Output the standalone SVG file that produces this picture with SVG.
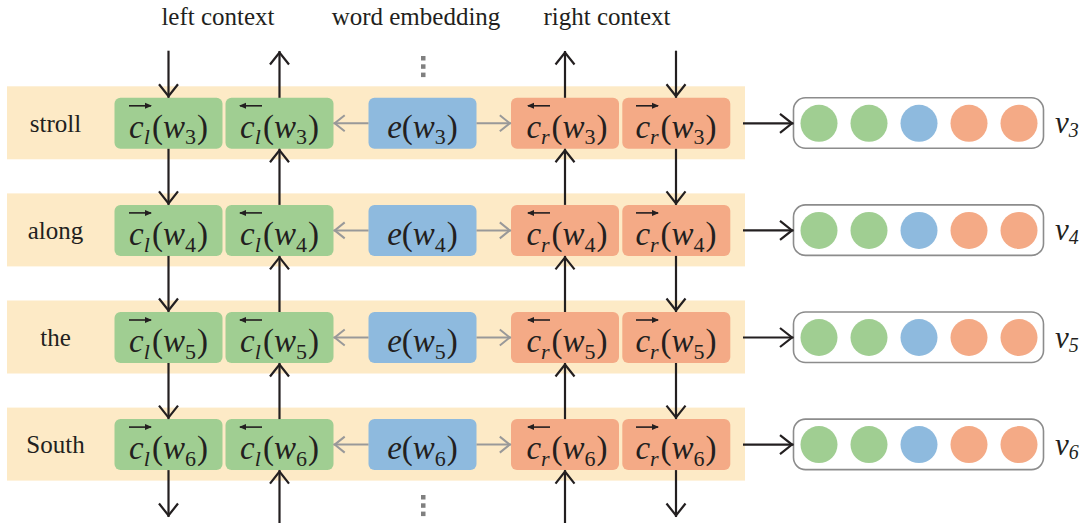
<svg xmlns="http://www.w3.org/2000/svg" width="1081" height="523" viewBox="0 0 1081 523">
<style>
.band{fill:#fdeac6}
.g{fill:#a0ce92}.b{fill:#8ebade}.o{fill:#f4aa86}
.m{font-family:"Liberation Serif","Times New Roman",serif;font-size:33px;fill:#231f20;text-anchor:middle}
.i{font-style:italic}
.s{font-size:22px}
.lbl{font-family:"Liberation Serif","Times New Roman",serif;font-size:25px;fill:#231f20;text-anchor:middle}
.v{font-family:"Liberation Serif","Times New Roman",serif;font-size:31px;fill:#231f20;font-style:italic}
.ar{stroke:#231f20;stroke-width:2.2;fill:none;marker-end:url(#ah)}
.ga{stroke:#999;stroke-width:2;fill:none;marker-end:url(#gh)}
.oa{stroke:#231f20;stroke-width:1.6;fill:none;marker-end:url(#sh)}
.vb{fill:#fff;stroke:#8c8c8c;stroke-width:1.6}
.dot{fill:#808080}
</style>
<defs>
<marker id="ah" markerUnits="userSpaceOnUse" markerWidth="30" markerHeight="30" refX="1.5" refY="0" orient="auto" overflow="visible"><path d="M-12,-9.5L0,0L-12,9.5" fill="none" stroke="#231f20" stroke-width="2.2"/></marker>
<marker id="gh" markerUnits="userSpaceOnUse" markerWidth="30" markerHeight="30" refX="1.2" refY="0" orient="auto" overflow="visible"><path d="M-10,-8L0,0L-10,8" fill="none" stroke="#999" stroke-width="2"/></marker>
<marker id="sh" markerUnits="userSpaceOnUse" markerWidth="12" markerHeight="12" refX="0" refY="0" orient="auto" overflow="visible"><path d="M-6,-3L1,0L-6,3Z" fill="#231f20"/></marker>
</defs>

<g id="headers">
<text class="lbl" x="218" y="25">left context</text>
<text class="lbl" x="416" y="25">word embedding</text>
<text class="lbl" x="607" y="25">right context</text>
</g>

<g id="bands">
<rect class="band" x="7" y="86.3" width="738" height="73"/>
<rect class="band" x="7" y="193.4" width="738" height="73"/>
<rect class="band" x="7" y="300.5" width="738" height="73"/>
<rect class="band" x="7" y="407.6" width="738" height="73"/>
</g>

<g id="dots">
<rect class="dot" x="421" y="56" width="4.5" height="4.5"/>
<rect class="dot" x="421" y="64.3" width="4.5" height="4.5"/>
<rect class="dot" x="421" y="72.6" width="4.5" height="4.5"/>
<rect class="dot" x="421" y="495" width="4.5" height="4.5"/>
<rect class="dot" x="421" y="503.3" width="4.5" height="4.5"/>
<rect class="dot" x="421" y="511.6" width="4.5" height="4.5"/>
</g>

<!-- Row w3 -->
<g id="word-3" transform="translate(0,123.3)"><text class="lbl" x="55.5" y="8.4">stroll</text></g>
<g id="clf-3" transform="translate(0,123.3)"><rect class="g" x="114.5" y="-25.5" width="108" height="51" rx="6"/><path class="oa" d="M129,-17.5H151"/><text class="m" x="168.5" y="14.2"><tspan class="i">c</tspan><tspan class="s i" dy="7">l</tspan><tspan dy="-7" dx="2">(</tspan><tspan class="i">w</tspan><tspan class="s" dy="7">3</tspan><tspan dy="-7" dx="1">)</tspan></text></g>
<g id="clb-3" transform="translate(0,123.3)"><rect class="g" x="225.5" y="-25.5" width="108" height="51" rx="6"/><path class="oa" d="M262,-17.5H240"/><text class="m" x="279.5" y="14.2"><tspan class="i">c</tspan><tspan class="s i" dy="7">l</tspan><tspan dy="-7" dx="2">(</tspan><tspan class="i">w</tspan><tspan class="s" dy="7">3</tspan><tspan dy="-7" dx="1">)</tspan></text></g>
<g id="e-3" transform="translate(0,123.3)"><rect class="b" x="368.5" y="-25.5" width="108" height="51" rx="6"/><text class="m" x="422.5" y="14.2"><tspan class="i">e</tspan><tspan>(</tspan><tspan class="i">w</tspan><tspan class="s" dy="7">3</tspan><tspan dy="-7" dx="1">)</tspan></text></g>
<g id="crb-3" transform="translate(0,123.3)"><rect class="o" x="511" y="-25.5" width="108" height="51" rx="6"/><path class="oa" d="M550,-17.5H528"/><text class="m" x="567" y="14.2"><tspan class="i">c</tspan><tspan class="s i" dy="7">r</tspan><tspan dy="-7" dx="2">(</tspan><tspan class="i">w</tspan><tspan class="s" dy="7">3</tspan><tspan dy="-7" dx="1">)</tspan></text></g>
<g id="crf-3" transform="translate(0,123.3)"><rect class="o" x="622.3" y="-25.5" width="108" height="51" rx="6"/><path class="oa" d="M636,-17.5H658"/><text class="m" x="676" y="14.2"><tspan class="i">c</tspan><tspan class="s i" dy="7">r</tspan><tspan dy="-7" dx="2">(</tspan><tspan class="i">w</tspan><tspan class="s" dy="7">3</tspan><tspan dy="-7" dx="1">)</tspan></text></g>
<g id="vec-3" transform="translate(0,123.3)"><rect class="vb" x="793.5" y="-25.5" width="250" height="50.5" rx="12"/><circle class="g" cx="819" cy="0" r="18.5"/><circle class="g" cx="869" cy="0" r="18.5"/><circle class="b" cx="919" cy="0" r="18.5"/><circle class="o" cx="969" cy="0" r="18.5"/><circle class="o" cx="1019" cy="0" r="18.5"/><text class="v" x="1055" y="10">v<tspan font-size="20" dy="4">3</tspan></text></g>

<!-- Row w4 -->
<g id="word-4" transform="translate(0,230.4)"><text class="lbl" x="55.5" y="8.4">along</text></g>
<g id="clf-4" transform="translate(0,230.4)"><rect class="g" x="114.5" y="-25.5" width="108" height="51" rx="6"/><path class="oa" d="M129,-17.5H151"/><text class="m" x="168.5" y="14.2"><tspan class="i">c</tspan><tspan class="s i" dy="7">l</tspan><tspan dy="-7" dx="2">(</tspan><tspan class="i">w</tspan><tspan class="s" dy="7">4</tspan><tspan dy="-7" dx="1">)</tspan></text></g>
<g id="clb-4" transform="translate(0,230.4)"><rect class="g" x="225.5" y="-25.5" width="108" height="51" rx="6"/><path class="oa" d="M262,-17.5H240"/><text class="m" x="279.5" y="14.2"><tspan class="i">c</tspan><tspan class="s i" dy="7">l</tspan><tspan dy="-7" dx="2">(</tspan><tspan class="i">w</tspan><tspan class="s" dy="7">4</tspan><tspan dy="-7" dx="1">)</tspan></text></g>
<g id="e-4" transform="translate(0,230.4)"><rect class="b" x="368.5" y="-25.5" width="108" height="51" rx="6"/><text class="m" x="422.5" y="14.2"><tspan class="i">e</tspan><tspan>(</tspan><tspan class="i">w</tspan><tspan class="s" dy="7">4</tspan><tspan dy="-7" dx="1">)</tspan></text></g>
<g id="crb-4" transform="translate(0,230.4)"><rect class="o" x="511" y="-25.5" width="108" height="51" rx="6"/><path class="oa" d="M550,-17.5H528"/><text class="m" x="567" y="14.2"><tspan class="i">c</tspan><tspan class="s i" dy="7">r</tspan><tspan dy="-7" dx="2">(</tspan><tspan class="i">w</tspan><tspan class="s" dy="7">4</tspan><tspan dy="-7" dx="1">)</tspan></text></g>
<g id="crf-4" transform="translate(0,230.4)"><rect class="o" x="622.3" y="-25.5" width="108" height="51" rx="6"/><path class="oa" d="M636,-17.5H658"/><text class="m" x="676" y="14.2"><tspan class="i">c</tspan><tspan class="s i" dy="7">r</tspan><tspan dy="-7" dx="2">(</tspan><tspan class="i">w</tspan><tspan class="s" dy="7">4</tspan><tspan dy="-7" dx="1">)</tspan></text></g>
<g id="vec-4" transform="translate(0,230.4)"><rect class="vb" x="793.5" y="-25.5" width="250" height="50.5" rx="12"/><circle class="g" cx="819" cy="0" r="18.5"/><circle class="g" cx="869" cy="0" r="18.5"/><circle class="b" cx="919" cy="0" r="18.5"/><circle class="o" cx="969" cy="0" r="18.5"/><circle class="o" cx="1019" cy="0" r="18.5"/><text class="v" x="1055" y="10">v<tspan font-size="20" dy="4">4</tspan></text></g>

<!-- Row w5 -->
<g id="word-5" transform="translate(0,337.5)"><text class="lbl" x="55.5" y="8.4">the</text></g>
<g id="clf-5" transform="translate(0,337.5)"><rect class="g" x="114.5" y="-25.5" width="108" height="51" rx="6"/><path class="oa" d="M129,-17.5H151"/><text class="m" x="168.5" y="14.2"><tspan class="i">c</tspan><tspan class="s i" dy="7">l</tspan><tspan dy="-7" dx="2">(</tspan><tspan class="i">w</tspan><tspan class="s" dy="7">5</tspan><tspan dy="-7" dx="1">)</tspan></text></g>
<g id="clb-5" transform="translate(0,337.5)"><rect class="g" x="225.5" y="-25.5" width="108" height="51" rx="6"/><path class="oa" d="M262,-17.5H240"/><text class="m" x="279.5" y="14.2"><tspan class="i">c</tspan><tspan class="s i" dy="7">l</tspan><tspan dy="-7" dx="2">(</tspan><tspan class="i">w</tspan><tspan class="s" dy="7">5</tspan><tspan dy="-7" dx="1">)</tspan></text></g>
<g id="e-5" transform="translate(0,337.5)"><rect class="b" x="368.5" y="-25.5" width="108" height="51" rx="6"/><text class="m" x="422.5" y="14.2"><tspan class="i">e</tspan><tspan>(</tspan><tspan class="i">w</tspan><tspan class="s" dy="7">5</tspan><tspan dy="-7" dx="1">)</tspan></text></g>
<g id="crb-5" transform="translate(0,337.5)"><rect class="o" x="511" y="-25.5" width="108" height="51" rx="6"/><path class="oa" d="M550,-17.5H528"/><text class="m" x="567" y="14.2"><tspan class="i">c</tspan><tspan class="s i" dy="7">r</tspan><tspan dy="-7" dx="2">(</tspan><tspan class="i">w</tspan><tspan class="s" dy="7">5</tspan><tspan dy="-7" dx="1">)</tspan></text></g>
<g id="crf-5" transform="translate(0,337.5)"><rect class="o" x="622.3" y="-25.5" width="108" height="51" rx="6"/><path class="oa" d="M636,-17.5H658"/><text class="m" x="676" y="14.2"><tspan class="i">c</tspan><tspan class="s i" dy="7">r</tspan><tspan dy="-7" dx="2">(</tspan><tspan class="i">w</tspan><tspan class="s" dy="7">5</tspan><tspan dy="-7" dx="1">)</tspan></text></g>
<g id="vec-5" transform="translate(0,337.5)"><rect class="vb" x="793.5" y="-25.5" width="250" height="50.5" rx="12"/><circle class="g" cx="819" cy="0" r="18.5"/><circle class="g" cx="869" cy="0" r="18.5"/><circle class="b" cx="919" cy="0" r="18.5"/><circle class="o" cx="969" cy="0" r="18.5"/><circle class="o" cx="1019" cy="0" r="18.5"/><text class="v" x="1055" y="10">v<tspan font-size="20" dy="4">5</tspan></text></g>

<!-- Row w6 -->
<g id="word-6" transform="translate(0,444.6)"><text class="lbl" x="55.5" y="8.4">South</text></g>
<g id="clf-6" transform="translate(0,444.6)"><rect class="g" x="114.5" y="-25.5" width="108" height="51" rx="6"/><path class="oa" d="M129,-17.5H151"/><text class="m" x="168.5" y="14.2"><tspan class="i">c</tspan><tspan class="s i" dy="7">l</tspan><tspan dy="-7" dx="2">(</tspan><tspan class="i">w</tspan><tspan class="s" dy="7">6</tspan><tspan dy="-7" dx="1">)</tspan></text></g>
<g id="clb-6" transform="translate(0,444.6)"><rect class="g" x="225.5" y="-25.5" width="108" height="51" rx="6"/><path class="oa" d="M262,-17.5H240"/><text class="m" x="279.5" y="14.2"><tspan class="i">c</tspan><tspan class="s i" dy="7">l</tspan><tspan dy="-7" dx="2">(</tspan><tspan class="i">w</tspan><tspan class="s" dy="7">6</tspan><tspan dy="-7" dx="1">)</tspan></text></g>
<g id="e-6" transform="translate(0,444.6)"><rect class="b" x="368.5" y="-25.5" width="108" height="51" rx="6"/><text class="m" x="422.5" y="14.2"><tspan class="i">e</tspan><tspan>(</tspan><tspan class="i">w</tspan><tspan class="s" dy="7">6</tspan><tspan dy="-7" dx="1">)</tspan></text></g>
<g id="crb-6" transform="translate(0,444.6)"><rect class="o" x="511" y="-25.5" width="108" height="51" rx="6"/><path class="oa" d="M550,-17.5H528"/><text class="m" x="567" y="14.2"><tspan class="i">c</tspan><tspan class="s i" dy="7">r</tspan><tspan dy="-7" dx="2">(</tspan><tspan class="i">w</tspan><tspan class="s" dy="7">6</tspan><tspan dy="-7" dx="1">)</tspan></text></g>
<g id="crf-6" transform="translate(0,444.6)"><rect class="o" x="622.3" y="-25.5" width="108" height="51" rx="6"/><path class="oa" d="M636,-17.5H658"/><text class="m" x="676" y="14.2"><tspan class="i">c</tspan><tspan class="s i" dy="7">r</tspan><tspan dy="-7" dx="2">(</tspan><tspan class="i">w</tspan><tspan class="s" dy="7">6</tspan><tspan dy="-7" dx="1">)</tspan></text></g>
<g id="vec-6" transform="translate(0,444.6)"><rect class="vb" x="793.5" y="-25.5" width="250" height="50.5" rx="12"/><circle class="g" cx="819" cy="0" r="18.5"/><circle class="g" cx="869" cy="0" r="18.5"/><circle class="b" cx="919" cy="0" r="18.5"/><circle class="o" cx="969" cy="0" r="18.5"/><circle class="o" cx="1019" cy="0" r="18.5"/><text class="v" x="1055" y="10">v<tspan font-size="20" dy="4">6</tspan></text></g>

<g id="connectors">
<path class="ar" d="M168.5,50.7V97.8"/>
<path class="ar" d="M168.5,148.8V204.9"/>
<path class="ar" d="M168.5,255.9V312"/>
<path class="ar" d="M168.5,363V419.1"/>
<path class="ar" d="M168.5,470.1V517"/>
<path class="ar" d="M279.5,97.8V51"/>
<path class="ar" d="M279.5,204.9V148.8"/>
<path class="ar" d="M279.5,312V255.9"/>
<path class="ar" d="M279.5,419.1V363"/>
<path class="ar" d="M279.5,523V470.1"/>
<path class="ar" d="M565,97.8V51"/>
<path class="ar" d="M565,204.9V148.8"/>
<path class="ar" d="M565,312V255.9"/>
<path class="ar" d="M565,419.1V363"/>
<path class="ar" d="M565,523V470.1"/>
<path class="ar" d="M676,50.7V97.8"/>
<path class="ar" d="M676,148.8V204.9"/>
<path class="ar" d="M676,255.9V312"/>
<path class="ar" d="M676,363V419.1"/>
<path class="ar" d="M676,470.1V517"/>
<path class="ga" d="M368.5,123.3H333.5"/><path class="ga" d="M476.5,123.3H511"/>
<path class="ga" d="M368.5,230.4H333.5"/><path class="ga" d="M476.5,230.4H511"/>
<path class="ga" d="M368.5,337.5H333.5"/><path class="ga" d="M476.5,337.5H511"/>
<path class="ga" d="M368.5,444.6H333.5"/><path class="ga" d="M476.5,444.6H511"/>
<path class="ar" d="M743,123.3H793.5"/>
<path class="ar" d="M743,230.4H793.5"/>
<path class="ar" d="M743,337.5H793.5"/>
<path class="ar" d="M743,444.6H793.5"/>
</g>
</svg>
